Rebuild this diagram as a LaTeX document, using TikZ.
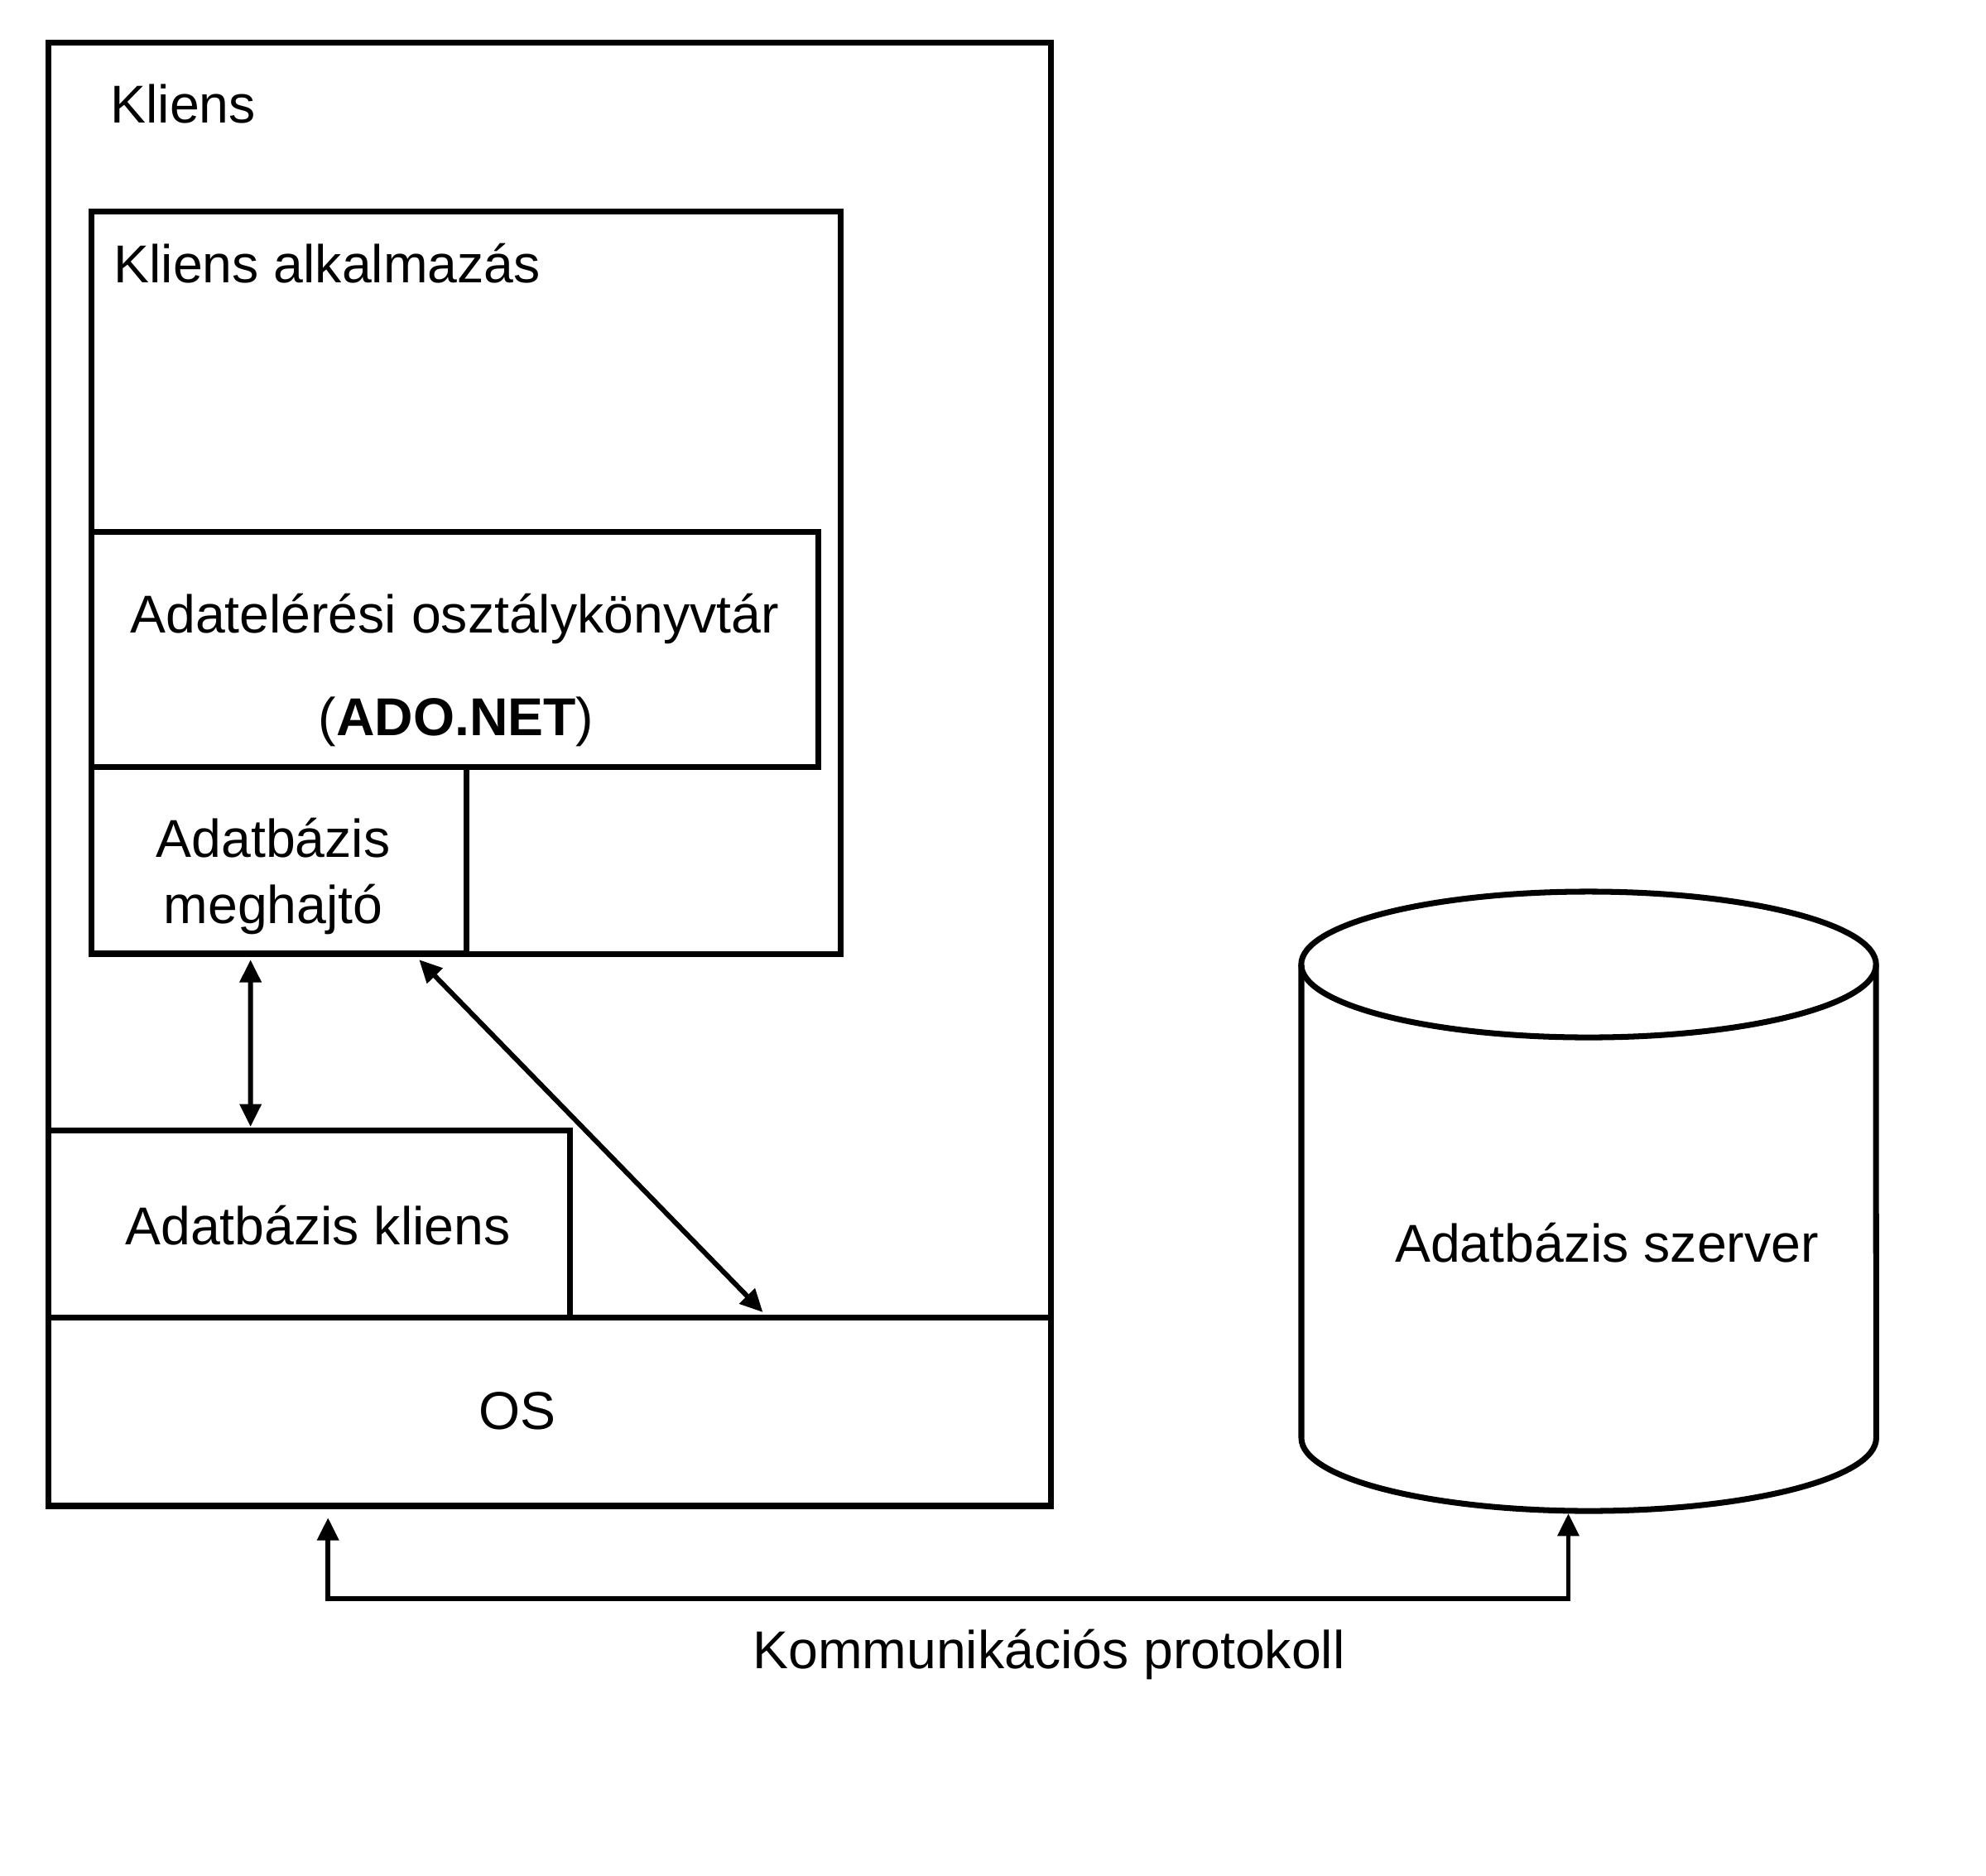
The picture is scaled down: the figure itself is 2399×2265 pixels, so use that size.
\documentclass[tikz,border=0pt]{standalone}
\usepackage{fontspec}
\setmainfont{Liberation Sans}
\usetikzlibrary{arrows.meta}

\begin{document}
\begin{tikzpicture}[x=0.01cm, y=-0.01cm,
  box/.style={draw, line width=2pt, rectangle, anchor=north west, inner sep=0pt, outer sep=0pt},
  txt/.style={inner sep=0pt, font=\fontsize{18.3}{22}\selectfont},
  link/.style={line width=1.7pt, {Triangle[length=7.8pt,width=7.2pt]}-{Triangle[length=7.8pt,width=7.2pt]}}]
\useasboundingbox (0,0) rectangle (2399,2265);
% client machine
\node[box, minimum width=12.10cm, minimum height=17.675cm] (client) at (58.5,51) {};
\node[txt, anchor=base west] (clientlbl) at (133,148) {Kliens};
\node[box, minimum width=9.04cm, minimum height=8.965cm] (app) at (110.5,255) {};
\node[txt, anchor=base west] (applbl) at (137,341) {Kliens alkalmazás};
\node[box, minimum width=8.77cm, minimum height=2.835cm] (ado) at (110.5,642.5) {};
\node[txt, anchor=base] (adolbl) at (549,764) {Adatelérési osztálykönyvtár};
\node[txt, anchor=base] (adonet) at (551,888) {(\textbf{ADO.NET})};
\node[box, minimum width=4.525cm, minimum height=2.255cm] (driver) at (110.5,926) {};
\node[txt, anchor=base] (driverlbl) at (330,1035) {Adatbázis};
\node[txt, anchor=base] (driverlbl2) at (330,1115) {meghajtó};
\node[box, minimum width=6.295cm, minimum height=2.265cm] (dbclient) at (58.5,1365) {};
\node[txt, anchor=base] (dbclientlbl) at (384,1503) {Adatbázis kliens};
\node[box, minimum width=12.10cm, minimum height=2.27cm] (os) at (58.5,1591.5) {};
\node[txt, anchor=base] (oslbl) at (625,1726) {OS};
% database server
\draw[line width=2pt] (1919,1165) ellipse [x radius=3.47cm, y radius=0.88cm];
\draw[line width=2pt] (1572,1165) -- (1572,1737) arc[start angle=180, end angle=360, x radius=3.47cm, y radius=0.88cm] -- (2266,1165);
\coordinate (dbbottom) at (1919,1825);
\node[txt, anchor=base] (serverlbl) at (1941,1524) {Adatbázis szerver};
% arrows
\draw[link] ([xshift=1.92cm,yshift=-0.075cm]driver.south west) -- ([xshift=2.44cm,yshift=0.04cm]dbclient.north west);
\draw[link] ([xshift=-0.57cm,yshift=-0.075cm]driver.south east) -- ([xshift=8.625cm,yshift=0.065cm]os.north west);
\coordinate (wire) at (1274,1931);
\draw[link] ([xshift=3.375cm,yshift=-0.145cm]os.south west) |- (wire) -| ([xshift=-0.245cm,yshift=-0.03cm]dbbottom);
\node[txt, anchor=base] (protocol) at (1267,2015) {Kommunikációs protokoll};
\end{tikzpicture}
\end{document}
